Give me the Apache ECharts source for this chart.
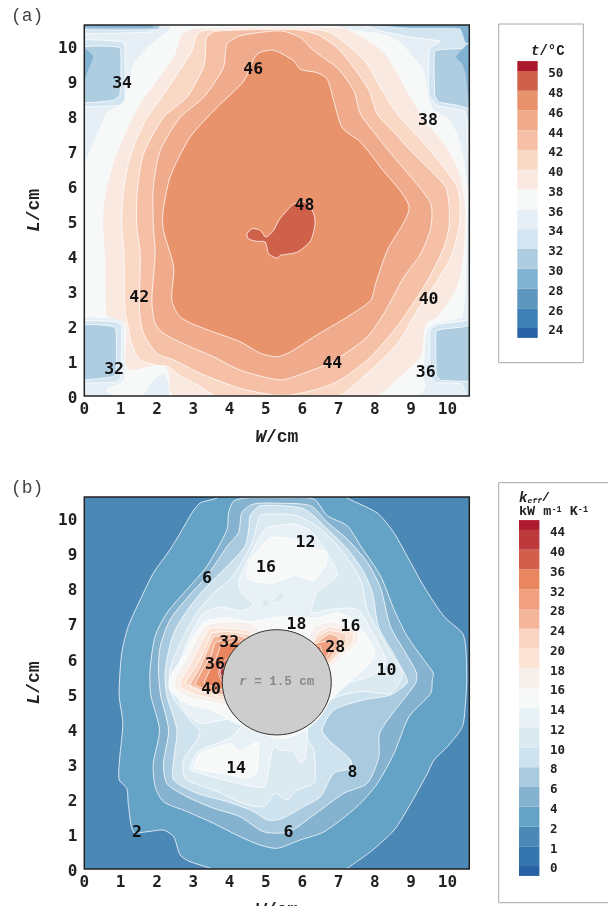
<!DOCTYPE html>
<html><head><meta charset="utf-8">
<style>html,body{margin:0;padding:0;background:#fff;overflow:hidden}#c{width:608px;height:906px}</style>
<script src="https://cdn.jsdelivr.net/npm/echarts@6/dist/echarts.min.js"></script>
</head><body><div id="c"></div>
<script>
// ---------- tick labels / legend labels ----------
const legendLabelsA = ['24','26','28','30','32','34','36','38','40','42','44','46','48','50'];
const legendLabelsB = ['0','1','2','4','6','8','10','12','14','16','18','20','24','28','32','36','40','44'];
const legendColorsA = ['#2a63a5','#3d80b5','#5d97c0','#82b2d1','#aecde0','#d3e5f0','#e6eff5','#f7f9f9','#fae9e0','#f9d8c6','#f5c0a6','#efab8b','#e9936d','#cf6049','#ab1a2c'];
const legendColorsB = ['#2860a4','#3575ae','#4b88b6','#64a2c6','#84b2cf','#aacbdf','#cfe3ef','#dbe9f1','#e8f1f6','#f7f9f9','#f6efeb','#fbe3d6','#f9d5c2','#f4b69a','#f0a07e','#e9865f','#d25f4c','#bd3a3c','#ae1b2e'];
// ---------- contour labels [W, L, text] ----------
const labelsA = [[1.04,8.97,'34'],[4.65,9.37,'46'],[9.46,7.92,'38'],[6.06,5.47,'48'],[1.51,2.85,'42'],[9.48,2.79,'40'],[6.83,.97,'44'],[.82,.8,'32'],[9.4,.71,'36']];
const labelsB = [[3.38,8.3,'6'],[5.0,8.64,'16'],[6.09,9.35,'12'],[3.99,6.5,'32'],[5.84,6.99,'18'],[7.33,6.96,'16'],[6.91,6.36,'28'],[3.6,5.87,'36'],[8.32,5.7,'10'],[3.49,5.16,'40'],[4.18,2.91,'14'],[7.38,2.79,'8'],[1.45,1.08,'2'],[5.62,1.08,'6']];
// ---------- panel (a) contours, [W, L] ----------
const aT40 = [[3.14,10.5],[2.69,10.33],[2.5,9.76],[2,9],[1.54,8.34],[1.12,7.48],[.8,6.63],[.57,5.68],[.52,4.92],[.57,4.06],[.6,2.45],[.62,2.3],[1.12,2.07],[1.15,1.5],[1.12,.93],[1.3,.74],[2.18,.91],[2.32,.65],[2.36,.17],[2.55,-.05],[7.88,-.05],[8.8,.65],[9.26,1.12],[9.35,1.79],[9.45,2.12],[9.72,2.26],[10,2.64],[10.27,3.16],[10.44,4.06],[10.49,5.3],[10.41,5.96],[10.27,6.53],[9.9,7.2],[9.45,7.77],[9.03,8.43],[8.62,9.2],[8.3,9.75],[7.97,10.05],[7.5,10.33],[7.15,10.5]];
const aT42 = [[3.3,10.45],[3.1,10.33],[2.96,9.86],[2.55,9.19],[2.09,8.48],[1.63,7.77],[1.26,6.82],[1.08,5.87],[1.03,4.92],[1.09,4.06],[1.12,2.45],[1.2,2.02],[1.3,1.5],[1.54,1.03],[2.0,.88],[2.32,.84],[2.6,.6],[3.2,.27],[3.75,-.05],[6.87,-.05],[7.79,.65],[8.62,1.5],[9.17,2.45],[9.72,3.3],[10.09,3.97],[10.32,4.82],[10.35,5.4],[10.27,5.96],[9.9,6.53],[9.45,7.1],[9.03,7.58],[8.62,8.05],[8.16,8.81],[7.79,9.48],[7.33,9.95],[6.78,10.38],[6.32,10.47]];
const aT44 = [[3.37,10.24],[3.6,10.42],[5.77,10.47],[6.41,10.33],[6.96,9.95],[7.42,9.38],[7.84,8.72],[8.07,8.05],[8.53,7.53],[8.99,7.0],[9.54,6.44],[9.95,5.96],[10.04,5.49],[10.04,4.82],[9.9,4.25],[9.45,3.3],[8.99,2.55],[8.53,1.88],[7.79,1.03],[6.96,.41],[6.32,.17],[5.67,.03],[5.21,.03],[4.29,.22],[3.19,.65],[2.46,1.03],[2.0,1.22],[1.63,1.79],[1.52,2.45],[1.54,4.06],[1.44,4.92],[1.46,5.87],[1.63,6.91],[2.18,7.96],[2.82,8.53],[3.28,9.38],[3.33,9.67]];
const aT46 = [[3.93,10.05],[4.29,10.29],[5.4,10.43],[5.95,10.24],[6.32,9.86],[6.96,9.38],[7.42,8.72],[7.61,8.05],[8.16,7.29],[8.53,6.82],[9.08,6.15],[9.54,5.49],[9.54,4.82],[9.26,4.06],[8.8,3.4],[8.25,2.36],[7.79,1.69],[6.83,.98],[6.04,.65],[5.4,.46],[4.29,.74],[3.56,1.12],[2.82,1.45],[2.18,1.79],[1.95,2.07],[1.86,2.73],[1.95,4.06],[1.9,4.92],[1.9,5.96],[2.09,7.01],[2.64,7.96],[3.28,8.53],[3.83,9.38]];
const aT48 = [[4.75,9.76],[5.21,9.88],[5.77,9.57],[5.95,9.33],[6.41,9.24],[6.69,9.05],[6.87,8.43],[7.1,7.67],[7.61,7.25],[8.16,6.53],[8.94,5.39],[8.34,4.16],[8.02,3.21],[7.88,2.73],[7.24,2.26],[6.32,1.69],[5.68,1.26],[5.31,1.12],[4.85,1.22],[4.29,1.55],[3.19,1.97],[2.64,2.26],[2.41,2.73],[2.46,3.68],[2.18,4.73],[2.16,5.2],[2.36,6.25],[2.91,7.39],[3.65,8.24],[4.39,9.0]];
const aT50 = [[4.48,4.63],[4.62,4.78],[4.85,4.73],[5.0,4.54],[5.21,4.73],[5.35,5.01],[5.58,5.3],[5.77,5.49],[6.09,5.54],[6.32,5.2],[6.35,4.9],[6.23,4.44],[5.86,4.11],[5.4,4.02],[5.31,3.94],[5.08,4.06],[4.98,4.4],[4.75,4.42],[4.52,4.49]];
const aCornerTL1 = [[-.1,6.63],[0,6.63],[.62,8.1],[.95,8.3],[1.22,8.9],[1.35,9.48],[1.72,9.95],[2.36,10.5],[2.3,10.7],[-.1,10.7]];
const aStripTop2 = [[-.1,10.37],[1.8,10.4],[2.2,10.7],[-.1,10.7]];
const aStripTop3 = [[-.1,10.47],[2.05,10.47],[2.1,10.7],[-.1,10.7]];
const aStripTop4 = [[-.1,10.53],[1.9,10.53],[1.9,10.7],[-.1,10.7]];
const aSqTL2 = [[-.1,10.15],[1.05,10.12],[1.12,10.0],[1.12,8.45],[.95,8.3],[-.1,8.3]];
const aSqTL3 = [[-.1,9.95],[.98,9.95],[.98,8.6],[.8,8.45],[-.1,8.4]];
const aSqTL4 = [[-.1,9.9],[.05,9.9],[.25,9.7],[.1,9.3],[0,9.0],[-.1,9.0]];
const aCornerTR1 = [[7.0,10.7],[7.0,10.55],[7.8,10.4],[8.1,10.37],[8.62,10.17],[9.08,9.67],[9.35,9.29],[9.49,8.5],[9.6,8.2],[10.0,7.95],[10.27,7.48],[10.46,6.7],[10.55,6.0],[10.7,6.0],[10.7,10.7]];
const aCornerTR2 = [[7.4,10.7],[8.2,10.42],[9.0,10.25],[9.81,10.14],[9.6,10.0],[9.49,9.86],[9.49,8.6],[9.72,8.3],[10.46,8.15],[10.53,7.9],[10.58,7.0],[10.7,7.0],[10.7,10.7]];
const aSqTR3 = [[9.65,9.86],[10.2,9.92],[10.7,9.92],[10.7,8.2],[10.3,8.3],[9.75,8.4],[9.65,8.6]];
const aSqTR4 = [[10.23,9.69],[10.55,10.05],[10.7,10.05],[10.7,8.45],[10.58,8.5],[10.5,9.2],[10.4,9.5]];
const aStripTR4 = [[8.0,10.7],[8.0,10.6],[9,10.52],[10.35,10.5],[10.5,10.1],[10.7,10.1],[10.7,10.7]];
const aCornerBL1 = [[-.1,2.2],[.9,2.2],[1.08,2.03],[1.1,.5],[.95,.35],[.62,.22],[.62,.1],[.95,-.05],[-.1,-.05]];
const aSqBL2 = [[-.1,2.12],[.9,2.12],[1.03,1.98],[1.0,.52],[.9,.4],[-.1,.4]];
const aSqBL3 = [[-.1,2.02],[.85,1.96],[.88,.65],[.8,.55],[-.1,.48]];
const aBlobBottom = [[1.63,-.05],[1.75,.25],[2.0,.55],[2.2,.62],[2.3,.4],[2.33,-.05]];
const aCornerBR1 = [[9.2,-.05],[9.4,.25],[9.35,.5],[9.4,1.7],[9.45,1.9],[9.65,2.05],[10.4,2.25],[10.5,3.0],[10.53,4.5],[10.58,5.5],[10.7,5.5],[10.7,-.05]];
const aSqBR2 = [[9.52,1.9],[9.52,.55],[9.68,.38],[10.37,.36],[10.5,.1],[10.5,-.05],[10.7,-.05],[10.7,2.2],[10.5,2.15],[9.75,2.05]];
const aSqBR3 = [[9.68,1.85],[9.69,.6],[9.81,.45],[10.7,.45],[10.7,2.02],[10.4,1.97],[9.8,1.9]];
// ---------- panel (b) contours, [W, L] ----------
const bK2 = [[3.65,10.7],[3.65,10.57],[3.19,10.43],[2.96,10.14],[2.64,9.57],[2.36,9.1],[1.9,8.43],[1.54,7.67],[1.21,6.91],[1.03,6.15],[.96,4.96],[1.06,4.15],[.97,3.11],[.96,2.54],[1.17,2.3],[1.21,1.87],[1.35,1.06],[1.72,1.06],[2.18,1.11],[2.46,.92],[2.64,.4],[2.91,.21],[3.47,.02],[3.6,-.1],[7.1,-.1],[7.24,.02],[7.88,.49],[8.53,1.11],[8.99,1.87],[9.45,2.73],[9.63,3.11],[10.0,3.49],[10.41,4.06],[10.5,4.82],[10.53,5.39],[10.5,6.34],[10.41,6.72],[9.9,7.2],[9.35,8.05],[8.99,8.72],[8.53,9.57],[8.07,10.14],[7.24,10.57],[7.1,10.7]];
const bK4 = [[4.5,10.58],[4.11,10.48],[3.97,10.14],[3.93,9.67],[3.37,8.62],[2.82,7.96],[2.27,7.29],[1.95,6.63],[1.81,5.67],[1.83,4.96],[2.07,3.96],[1.9,3.01],[1.95,2.35],[2.18,1.92],[2.82,1.64],[3.56,1.3],[4.29,.92],[4.85,.68],[5.31,.59],[5.95,.83],[6.6,1.06],[7.51,1.78],[8.07,2.44],[8.53,3.3],[8.94,4.34],[9.54,5.01],[9.58,5.39],[9.61,5.58],[9.35,5.96],[8.89,6.63],[8.53,7.39],[8.16,8.34],[7.61,9.2],[7.24,9.78],[6.69,10.07],[6.32,10.54],[5.5,10.58]];
const bK6 = [[4.25,9.59],[4.34,10.16],[4.66,10.4],[5.4,10.42],[6.23,10.35],[6.69,9.88],[7.24,9.4],[7.79,8.74],[8.16,8.0],[8.43,6.91],[8.85,6.15],[9.15,5.58],[9.12,5.29],[8.53,4.49],[8.13,3.87],[8.11,3.2],[7.79,2.44],[7.15,2.16],[6.32,1.54],[5.63,1.06],[4.94,1.06],[4.29,1.49],[3.56,1.73],[2.82,2.06],[2.27,2.44],[2.18,3.01],[2.32,3.96],[2.1,4.96],[2.04,5.67],[2.09,6.34],[2.36,7.1],[2.87,7.77],[3.37,8.34],[3.93,9.19]];
const bK8 = [[4.53,9.69],[4.57,10.07],[4.85,10.35],[6.04,10.26],[6.69,9.69],[7.24,9.12],[7.7,8.45],[7.95,7.8],[8.1,6.9],[8.5,6.15],[8.85,5.5],[8.89,5.3],[8.43,4.96],[7.7,4.82],[6.87,4.53],[6.55,3.96],[6.78,3.63],[7.33,3.11],[7.33,2.87],[6.87,2.73],[6.5,2.06],[6.04,1.78],[5.4,1.42],[5.03,1.4],[4.66,1.64],[3.93,1.92],[3.1,2.16],[2.46,2.54],[2.46,3.11],[2.55,3.96],[2.27,4.96],[2.23,5.67],[2.46,6.72],[2.91,7.48],[3.37,8.05],[4.02,8.72],[4.43,9.21]];
const bK10 = [[4.75,9.78],[4.85,10.07],[5.12,10.11],[5.86,10.07],[6.5,9.69],[7.05,9.12],[7.6,8.26],[7.79,7.39],[8.07,6.82],[8.43,6.15],[8.76,5.58],[8.66,5.29],[8.43,5.01],[7.61,5.06],[6.78,4.82],[6.09,3.87],[6.32,3.39],[6.36,2.82],[6.32,2.44],[5.86,2.25],[5.58,1.97],[5.26,2.16],[4.94,1.78],[4.38,1.87],[3.65,2.21],[2.82,2.54],[2.73,2.73],[2.73,3.11],[3.19,3.87],[2.91,4.25],[2.41,4.96],[2.36,5.67],[2.69,6.53],[3.1,7.29],[3.56,7.86],[4.02,8.26],[4.39,8.83],[4.66,9.4]];
const bK12Top = [[5.03,9.73],[4.8,9.4],[4.43,8.64],[4.25,8.17],[4.34,7.84],[4.66,7.55],[4.34,7.36],[3.74,7.46],[3.28,7.29],[2.91,6.63],[2.59,5.77],[2.55,4.96],[2.82,4.44],[3.19,4.15],[3.56,4.2],[4.11,4.3],[5.3,4.5],[6.6,4.7],[7.3,5.3],[7.9,5.5],[8.3,5.9],[7.88,6.83],[7.51,7.4],[6.78,7.4],[6.27,7.31],[6.41,7.88],[6.96,8.36],[6.78,8.83],[6.23,9.64],[5.77,9.83],[5.49,9.81]];
const bK12Low = [[2.91,2.92],[3.14,3.35],[4.02,3.73],[4.4,4.1],[5.4,4.2],[6.1,4.2],[6.09,3.2],[5.95,3.01],[5.76,3.35],[5.4,3.39],[5.21,3.49],[5.05,2.68],[4.94,2.33],[3.83,2.54],[2.91,2.82]];
const bBlob1 = [[4.9,7.55],[4.98,7.7],[5.08,7.6],[5.0,7.48]];
const bBlob2 = [[5.2,7.62],[5.4,7.85],[5.52,7.82],[5.4,7.65]];
const bK14Top = [[5.12,9.45],[4.53,8.74],[4.5,8.26],[5.12,8.12],[5.77,8.36],[6.32,8.21],[6.64,8.64],[6.7,9.03],[6.23,9.16],[5.77,9.4]];
const bK14Low = [[3.0,2.87],[3.19,3.3],[4.02,3.58],[4.29,3.35],[4.8,3.63],[4.75,2.73],[4.43,2.59],[3.74,2.73]];
const bK14Hot = [[3.33,7.05],[3.0,6.63],[2.73,6.06],[2.36,5.48],[2.36,5.1],[2.82,4.72],[3.47,4.53],[4.2,4.15],[4.8,3.9],[5.4,3.72],[6.0,3.9],[6.5,4.35],[6.9,5.0],[7.6,5.6],[8.0,6.1],[7.8,6.6],[7.4,7.1],[6.96,7.3],[6.41,7.15],[5.49,7.2],[4.57,7.05],[3.93,7.15]];
const bK16L = [[3.37,6.96],[3.1,6.58],[2.82,6.0],[2.5,5.44],[2.5,5.15],[2.91,4.87],[3.65,4.72],[4.3,4.6],[5,5],[5,6.6],[4.6,7.0],[3.9,7.05]];
const bK18L = [[3.46,6.86],[3.23,6.48],[2.96,5.91],[2.64,5.34],[2.68,5.15],[3.1,4.96],[3.79,4.82],[5,5.2],[4.57,6.77],[4.02,6.86]];
const bK20L = [[3.51,6.72],[3.37,6.39],[3.1,5.82],[2.78,5.29],[3.19,5.06],[3.79,4.91],[5,5.3],[4.6,6.65],[3.92,6.77]];
const bK24L = [[3.55,6.6],[3.4,6.25],[3.17,5.72],[2.92,5.25],[3.33,5.06],[3.79,4.97],[5,5.5],[4.5,6.55],[4.02,6.7]];
const bK28L = [[3.6,6.45],[3.5,6.1],[3.23,5.63],[3.05,5.25],[3.6,5.05],[5,5.6],[4.2,6.6]];
const bK32L = [[3.75,6.35],[3.65,6.05],[3.45,5.65],[3.3,5.3],[3.8,5.12],[5,5.6],[4.2,6.5]];
const bK36L = [[3.95,6.0],[3.75,5.8],[3.7,5.55],[3.8,5.35],[4.4,5.5],[4.4,6.0]];
const bK40L = [[3.74,5.67],[3.9,5.75],[3.95,5.53],[3.76,5.5]];
const bK16R = [[6.32,6.91],[6.78,7.05],[7.56,6.82],[7.51,6.44],[7.05,6.01],[6.78,5.77],[6.0,6.0]];
const bK18R = [[6.41,6.72],[6.78,6.91],[7.42,6.72],[7.38,6.44],[6.92,6.01],[6.78,5.85],[6.1,6.0]];
const bK20R = [[6.4,6.6],[6.75,6.8],[7.2,6.7],[7.2,6.4],[6.85,6.0],[6.7,5.85],[6.1,6.0]];
const bK24R = [[6.45,6.5],[6.75,6.7],[7.0,6.6],[7.0,6.35],[6.75,6.0],[6.6,5.9],[6.1,6.0]];
const bK28R = [[6.3,6.4],[6.7,6.5],[6.85,6.4],[6.65,6.0],[6.5,6],[6.1,6.0]];
const bK32R = [[6.2,6.3],[6.5,6.35],[6.55,6.05],[6.4,5.95],[6.1,6.0]];
const holeCentre = [5.3,5.32];
const holeRadius = [1.5];
const axisExtent = [0,10.6];

// ---------- layer tables: [points, legend colour index, outline] ----------
const layersA = [
 [aCornerTL1,6,0],[aCornerTR1,6,0],[aCornerBL1,6,0],[aCornerBR1,6,0],[aBlobBottom,6,0],
 [aStripTop2,5,1],[aStripTop3,4,1],[aStripTop4,3,0],
 [aSqTL2,5,1],[aSqTL3,4,1],[aSqTL4,3,0],
 [aCornerTR2,5,1],[aSqTR3,4,1],[aSqTR4,3,0],[aStripTR4,3,0],
 [aSqBL2,5,1],[aSqBL3,4,1],[aSqBR2,5,1],[aSqBR3,4,1],
 [aT40,8,0],[aT42,9,1],[aT44,10,1],[aT46,11,1],[aT48,12,1],[aT50,13,1]
];
const layersB = [
 [bK2,3,1],[bK4,4,1],[bK6,5,1],[bK8,6,1],[bK10,7,1],[bK12Top,8,1],[bK12Low,8,1],
 [bBlob1,7,0],[bBlob2,7,0],[bK14Top,9,1],[bK14Low,9,1],[bK14Hot,9,1],
 [bK16L,10,1],[bK18L,11,1],[bK20L,12,1],[bK24L,13,1],[bK28L,14,1],[bK32L,15,1],[bK36L,16,1],[bK40L,17,1],
 [bK16R,10,1],[bK18R,11,1],[bK20R,12,1],[bK24R,13,1],[bK28R,14,1],[bK32R,15,1]
];

const MONO = '"DejaVu Sans Mono"', SLAB = '"Liberation Mono"';
const G = {left:84.3,width:385,outerBoundsMode:'none',containLabel:false};
const grids = [
 Object.assign({top:25,height:371,show:true,borderWidth:0,backgroundColor:'#f7f9f9'},G),
 Object.assign({top:497,height:372,show:true,borderWidth:0,backgroundColor:legendColorsB[2]},G),
 {left:517.3,width:20.4,top:51.2,height:296.6,outerBoundsMode:'none'},
 {left:519,width:20.4,top:510.2,height:375.6,outerBoundsMode:'none'}
];
const tickFmt = v => Number.isInteger(v) ? String(v) : '';
const nameStyle = {fontFamily:SLAB,fontWeight:'bold',fontSize:18,color:'#222',rich:{i:{fontFamily:SLAB,fontWeight:'bold',fontStyle:'italic',fontSize:18,color:'#222'}}};
function mainX(i){return {type:'value',gridIndex:i,min:axisExtent[0],max:axisExtent[1],interval:1,
  name:'{i|W}/cm',nameLocation:'middle',nameGap:32,nameTextStyle:nameStyle,
  axisLine:{show:false},axisTick:{show:false},splitLine:{show:false},
  axisLabel:{formatter:tickFmt,fontFamily:MONO,fontWeight:'bold',fontSize:16,color:'#222',margin:6,hideOverlap:false,showMinLabel:true,showMaxLabel:true}};}
function mainY(i){return {type:'value',gridIndex:i,min:axisExtent[0],max:axisExtent[1],interval:1,
  name:'{i|L}/cm',nameLocation:'middle',nameGap:41,nameRotate:90,nameTextStyle:nameStyle,
  axisLine:{show:false},axisTick:{show:false},splitLine:{show:false},
  axisLabel:{formatter:tickFmt,fontFamily:MONO,fontWeight:'bold',fontSize:16,color:'#222',margin:7,verticalAlign:'top',lineHeight:6,hideOverlap:false,showMinLabel:true,showMaxLabel:true}};}
function legX(i){return {type:'value',gridIndex:i,min:0,max:1,show:false};}
function legY(i,labels){return {type:'value',gridIndex:i,min:-1,max:labels.length,interval:1,position:'right',
  axisLine:{show:false},axisTick:{show:false},splitLine:{show:false},
  axisLabel:{formatter:v=>labels[v]===undefined?'':labels[v],fontFamily:MONO,fontWeight:'bold',fontSize:12.5,color:'#222',margin:10.5,align:'left',verticalAlign:'top',lineHeight:6,hideOverlap:false}};}

function contourSeries(axis,layers,colors){
  return {type:'custom',xAxisIndex:axis,yAxisIndex:axis,clip:true,animation:false,silent:true,z:2,
    encode:{x:0,y:1},data:layers.map((_,i)=>[5,5,i]),
    renderItem:(p,api)=>{const l=layers[api.value(2)];
      return {type:'polygon',shape:{points:l[0].map(q=>api.coord(q)),smooth:l[0].length>=14?0.25:0.1},
        style:{fill:colors[l[1]],stroke:l[2]?'rgba(255,255,255,0.85)':null,lineWidth:l[2]?0.9:0}};}};
}
function frameSeries(axis){
  return {type:'custom',xAxisIndex:axis,yAxisIndex:axis,clip:false,animation:false,silent:true,z:6,
    encode:{x:0,y:1},data:[[axisExtent[0],axisExtent[0]]],
    renderItem:(p,api)=>{const a=api.coord([axisExtent[0],axisExtent[1]]),b=api.coord([axisExtent[1],axisExtent[0]]);
      return {type:'rect',shape:{x:a[0],y:a[1],width:b[0]-a[0],height:b[1]-a[1]},style:{fill:null,stroke:'#222',lineWidth:1.5}};}};
}
function labelSeries(axis,rows){
  return {type:'scatter',xAxisIndex:axis,yAxisIndex:axis,symbolSize:1,z:5,animation:false,silent:true,
    itemStyle:{color:'transparent'},data:rows,
    label:{show:true,position:'inside',offset:[0,1.5],formatter:p=>p.data[2],fontFamily:MONO,fontWeight:'bold',fontSize:16.5,color:'#111',textBorderWidth:0,opacity:1}};
}
function legendSeries(axis,colors){
  const n=colors.length-1;
  return {type:'custom',xAxisIndex:axis,yAxisIndex:axis,clip:false,animation:false,silent:true,
    encode:{x:0,y:1},data:colors.map((c,i)=>[0,i]),
    renderItem:(p,api)=>{const i=api.value(1),lo=i===0?-.5:i-1,hi=i===n?n-.5:i;
      const a=api.coord([0,hi]),b=api.coord([1,lo]);
      return {type:'rect',shape:{x:a[0],y:a[1],width:b[0]-a[0],height:b[1]-a[1]},style:{fill:colors[i]}};}};
}
const holeSeries = {type:'custom',xAxisIndex:1,yAxisIndex:1,clip:true,animation:false,silent:true,z:3,
  encode:{x:0,y:1},data:[[holeCentre[0],holeCentre[1]]],
  renderItem:(p,api)=>{const c=api.coord(holeCentre),s=api.size([holeRadius[0],holeRadius[0]]);
    return {type:'ellipse',shape:{cx:c[0],cy:c[1],rx:s[0],ry:s[1]},style:{fill:'#cdcdcd',stroke:'#333',lineWidth:1}};}};
const holeLabel = {type:'scatter',xAxisIndex:1,yAxisIndex:1,symbolSize:1,z:5,animation:false,silent:true,
  itemStyle:{color:'transparent'},data:[[holeCentre[0],holeCentre[1],'{i|r} = 1.5 cm']],
  label:{show:true,position:'inside',formatter:p=>p.data[2],fontFamily:SLAB,fontWeight:'bold',fontSize:12.5,color:'#777',rich:{i:{fontFamily:SLAB,fontStyle:'italic',fontWeight:'bold',fontSize:12.5,color:'#777'}}}};

const chart = echarts.init(document.getElementById('c'),null,{renderer:'canvas'});
chart.setOption({
  animation:false,backgroundColor:'#fff',
  grid:grids,
  xAxis:[mainX(0),mainX(1),legX(2),legX(3)],
  yAxis:[mainY(0),mainY(1),legY(2,legendLabelsA),legY(3,legendLabelsB)],
  graphic:[
    {type:'rect',z:-1,shape:{x:498.7,y:24,width:84.6,height:338.7},style:{fill:'#fff',stroke:'#a8a8a8',lineWidth:1}},
    {type:'rect',z:-1,shape:{x:498.7,y:482.7,width:130,height:420},style:{fill:'#fff',stroke:'#a8a8a8',lineWidth:1}},
    {type:'text',x:11,y:7,style:{text:'(a)',font:'18px "Liberation Mono"',fill:'#444'}},
    {type:'text',x:11,y:479,style:{text:'(b)',font:'18px "Liberation Mono"',fill:'#444'}},
    {type:'text',x:531,y:44,style:{text:'{i|t}/°C',font:'bold 14px "Liberation Mono"',fill:'#222',rich:{i:{font:'italic bold 14px "Liberation Mono"',fill:'#222'}}}},
    {type:'text',x:519,y:491,style:{text:'{i|k}{s|eff}/',font:'bold 13.5px "Liberation Mono"',fill:'#222',rich:{i:{font:'italic bold 14px "Liberation Mono"',fill:'#222'},s:{font:'italic bold 8px "Liberation Mono"',fill:'#222',verticalAlign:'bottom'}}}},
    {type:'text',x:519,y:505,style:{text:'kW m{u|-1} K{u|-1}',font:'bold 13.5px "Liberation Mono"',fill:'#222',rich:{u:{font:'bold 8.5px "Liberation Mono"',fill:'#222',verticalAlign:'top'}}}}
  ],
  series:[
    contourSeries(0,layersA,legendColorsA),frameSeries(0),labelSeries(0,labelsA),
    contourSeries(1,layersB,legendColorsB),holeSeries,frameSeries(1),labelSeries(1,labelsB),holeLabel,
    legendSeries(2,legendColorsA),legendSeries(3,legendColorsB)
  ]
});
</script></body></html>
